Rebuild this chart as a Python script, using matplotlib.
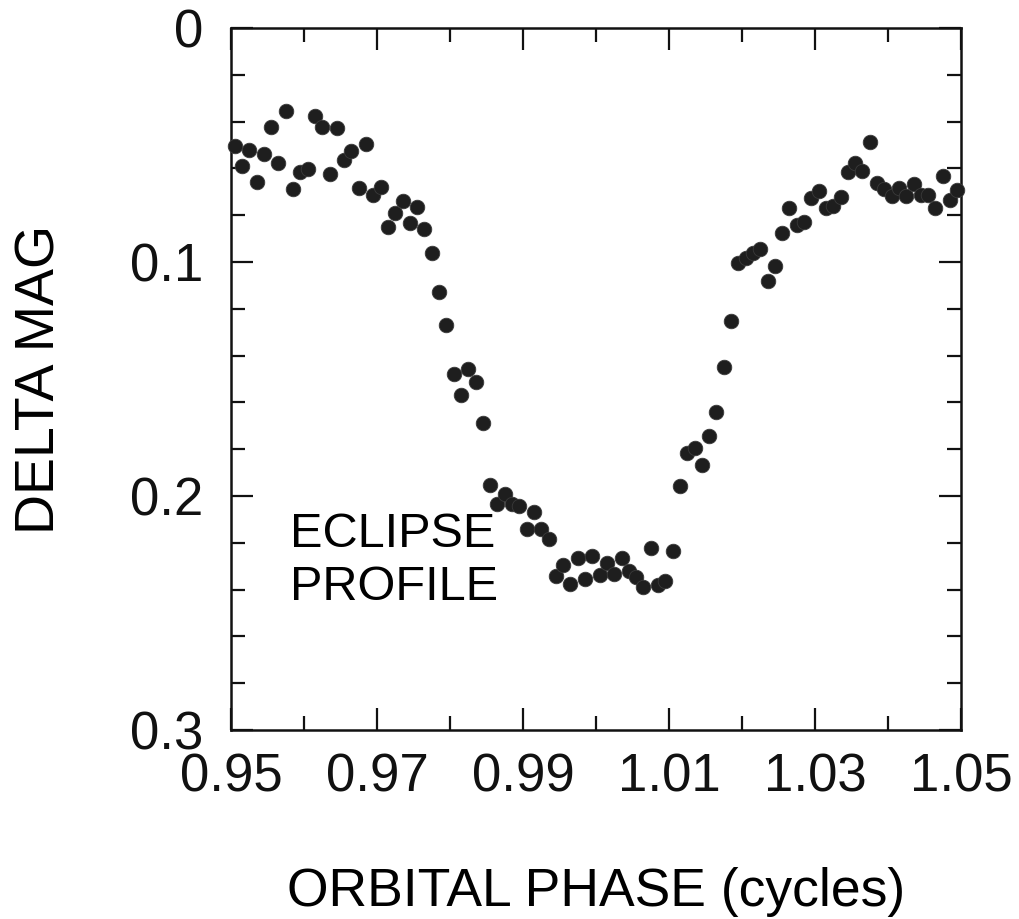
import matplotlib
matplotlib.use("Agg")
import matplotlib.pyplot as plt
from matplotlib.ticker import MultipleLocator

plt.rcParams['font.family'] = ['Liberation Sans', 'DejaVu Sans']

# orbital phase of each sample (cycles)
phase = [0.9505, 0.9515, 0.9525, 0.9535, 0.9545, 0.9555, 0.9565, 0.9575, 0.9585, 0.9595,
         0.9605, 0.9615, 0.9625, 0.9635, 0.9645, 0.9655, 0.9665, 0.9675, 0.9685, 0.9695,
         0.9705, 0.9715, 0.9725, 0.9735, 0.9745, 0.9755, 0.9765, 0.9775, 0.9785, 0.9795,
         0.9805, 0.9815, 0.9825, 0.9835, 0.9845, 0.9855, 0.9865, 0.9875, 0.9885, 0.9895,
         0.9905, 0.9915, 0.9925, 0.9935, 0.9945, 0.9955, 0.9965, 0.9975, 0.9985, 0.9995,
         1.0005, 1.0015, 1.0025, 1.0035, 1.0045, 1.0055, 1.0065, 1.0075, 1.0085, 1.0095,
         1.0105, 1.0115, 1.0125, 1.0135, 1.0145, 1.0155, 1.0165, 1.0175, 1.0185, 1.0195,
         1.0205, 1.0215, 1.0225, 1.0235, 1.0245, 1.0255, 1.0265, 1.0275, 1.0285, 1.0295,
         1.0305, 1.0315, 1.0325, 1.0335, 1.0345, 1.0355, 1.0365, 1.0375, 1.0385, 1.0395,
         1.0405, 1.0415, 1.0425, 1.0435, 1.0445, 1.0455, 1.0465, 1.0475, 1.0485, 1.0495]

# delta magnitude
dmag = [0.0504, 0.0588, 0.0523, 0.0657, 0.0538, 0.0422, 0.0576, 0.0356, 0.0688, 0.0617,
        0.0601, 0.0376, 0.0424, 0.0623, 0.0426, 0.0565, 0.0527, 0.0682, 0.0496, 0.0715,
        0.0680, 0.0849, 0.0792, 0.0741, 0.0832, 0.0766, 0.0860, 0.0963, 0.1127, 0.1271,
        0.1477, 0.1567, 0.1457, 0.1511, 0.1688, 0.1952, 0.2034, 0.1991, 0.2034, 0.2041,
        0.2140, 0.2068, 0.2142, 0.2185, 0.2342, 0.2295, 0.2376, 0.2266, 0.2353, 0.2255,
        0.2339, 0.2285, 0.2333, 0.2265, 0.2322, 0.2345, 0.2387, 0.2222, 0.2379, 0.2362,
        0.2234, 0.1957, 0.1818, 0.1795, 0.1869, 0.1744, 0.1642, 0.1447, 0.1254, 0.1003,
        0.0983, 0.0963, 0.0945, 0.1080, 0.1019, 0.0877, 0.0768, 0.0843, 0.0828, 0.0727,
        0.0695, 0.0769, 0.0761, 0.0721, 0.0615, 0.0575, 0.0613, 0.0486, 0.0664, 0.0687,
        0.0718, 0.0684, 0.0718, 0.0667, 0.0715, 0.0712, 0.0769, 0.0632, 0.0735, 0.0692]

xticks = [0.95, 0.97, 0.99, 1.01, 1.03, 1.05]
xlabels = ['0.95', '0.97', '0.99', '1.01', '1.03', '1.05']
yticks = [0, 0.1, 0.2, 0.3]
ylabels = ['0', '0.1', '0.2', '0.3']

fig = plt.figure(figsize=(10.2, 9.19), dpi=100)
ax = fig.add_axes([0.2265, 0.2057, 0.7157, 0.7638])

ax.scatter(phase, dmag, s=110, color='#1e1e1e', edgecolors='#3a3a3a',
           linewidths=0.6, zorder=3, clip_on=False)

ax.set_xlim(0.95, 1.05)
ax.set_ylim(0.3, 0)   # magnitude axis runs downward

ax.set_xticks(xticks)
ax.set_xticklabels(xlabels)
ax.set_yticks(yticks)
ax.set_yticklabels(ylabels)
ax.xaxis.set_minor_locator(MultipleLocator(0.01))
ax.yaxis.set_minor_locator(MultipleLocator(0.02))

ax.tick_params(which='both', direction='in', top=True, right=True,
               width=1.6, colors='#111111')
ax.tick_params(which='major', length=16, labelsize=38)
ax.tick_params(which='minor', length=10)
ax.tick_params(axis='x', which='major', pad=16)
ax.tick_params(axis='y', which='major', pad=20)
for sp in ax.spines.values():
    sp.set_linewidth(1.8)
    sp.set_color('#111111')

ax.set_xlabel('ORBITAL PHASE (cycles)', fontsize=38.5)
ax.set_ylabel('DELTA MAG', fontsize=40)
ax.xaxis.set_label_coords(0.5, -0.195)
ax.yaxis.set_label_coords(-0.226, 0.5)

ax.text(0.9581, 0.2444, 'ECLIPSE\nPROFILE', fontsize=35, ha='left',
        va='baseline', linespacing=1.22)

fig.savefig('out.png', dpi=100)
